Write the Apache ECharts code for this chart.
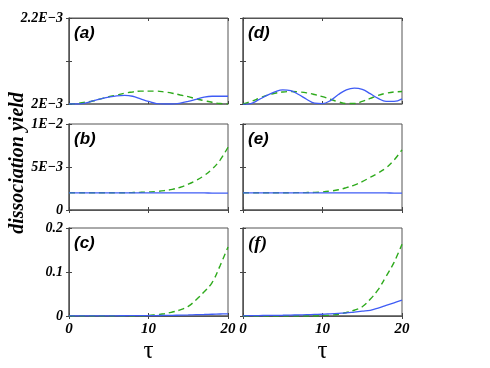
<!DOCTYPE html>
<html>
<head>
<meta charset="utf-8">
<script src="https://cdn.jsdelivr.net/npm/echarts@6/dist/echarts.min.js"></script>
<style>
  html, body { margin: 0; background: #fff; }
  #chart { width: 490px; height: 368px; }
</style>
</head>
<body>
<div id="chart"></div>
<script>
// time axis
const tau = [0, 1, 2, 3, 4, 5, 6, 7, 8, 9, 10, 11, 12, 13, 14, 15, 16, 17, 18, 19, 20]

// row 1 (a),(d): values in units of 1E-3
const aBlue  = [2.000, 2.000, 2.002, 2.007, 2.012, 2.016, 2.019, 2.020, 2.018, 2.012, 2.006, 2.001, 2.000, 2.000, 2.002, 2.006, 2.011, 2.016, 2.018, 2.018, 2.018]
const aGreen = [2.000, 2.001, 2.004, 2.007, 2.012, 2.017, 2.021, 2.025, 2.028, 2.030, 2.030, 2.030, 2.028, 2.025, 2.021, 2.017, 2.012, 2.008, 2.004, 2.001, 2.000]
const dBlue  = [1.999, 2.001, 2.010, 2.020, 2.028, 2.033, 2.031, 2.022, 2.011, 2.002, 2.001, 2.008, 2.022, 2.033, 2.037, 2.034, 2.024, 2.013, 2.006, 2.006, 2.012]
const dGreen = [2.000, 2.006, 2.013, 2.020, 2.025, 2.028, 2.029, 2.028, 2.026, 2.022, 2.017, 2.011, 2.005, 2.001, 2.001, 2.006, 2.013, 2.020, 2.025, 2.028, 2.029]

// row 2 (b),(e): values in units of 1E-3
const bBlue  = [2.0, 2.0, 2.0, 2.0, 2.0, 2.0, 2.0, 2.0, 2.0, 2.0, 2.0, 2.0, 2.0, 2.0, 2.0, 1.99, 1.98, 1.98, 1.97, 1.97, 1.96]
const bGreen = [2.0, 2.0, 2.0, 2.0, 2.0, 2.0, 2.0, 2.01, 2.03, 2.06, 2.1, 2.15, 2.25, 2.4, 2.65, 3.0, 3.45, 4.0, 4.75, 5.8, 7.3]
const eBlue  = [2.0, 2.0, 2.0, 2.0, 2.0, 2.0, 2.0, 2.0, 2.0, 2.0, 2.0, 2.0, 2.0, 2.0, 2.0, 1.99, 1.99, 1.98, 1.98, 1.97, 1.97]
const eGreen = [2.0, 2.0, 2.0, 2.0, 2.0, 2.0, 2.01, 2.02, 2.03, 2.05, 2.1, 2.2, 2.35, 2.6, 2.9, 3.3, 3.8, 4.3, 4.9, 5.8, 7.0]

// row 3 (c),(f)
const cBlue  = [0.0005, 0.0005, 0.0005, 0.0005, 0.0005, 0.0005, 0.0005, 0.0006, 0.0007, 0.0008, 0.0009, 0.001, 0.0012, 0.0015, 0.002, 0.0024, 0.0029, 0.0034, 0.004, 0.0045, 0.005]
const cGreen = [0, 0, 0, 0, 0, 0, 0, 0, 0, 0.0005, 0.001, 0.003, 0.005, 0.009, 0.014, 0.022, 0.037, 0.055, 0.076, 0.114, 0.157]
const fBlue  = [0.0005, 0.0007, 0.001, 0.0012, 0.0015, 0.0017, 0.002, 0.0025, 0.003, 0.0035, 0.004, 0.005, 0.006, 0.007, 0.009, 0.011, 0.013, 0.018, 0.024, 0.030, 0.036]
const fGreen = [0, 0, 0, 0, 0, 0, 0, 0, 0, 0, 0.001, 0.002, 0.004, 0.008, 0.013, 0.021, 0.038, 0.060, 0.090, 0.122, 0.163]

// y axis settings per row
const rowScales = [
  { min: 2, max: 2.2, interval: 0.1, labels: { '2': '2E\u22123', '2.1': '', '2.2': '2.2E\u22123' } },
  { min: 0, max: 10, interval: 5, labels: { '0': '0', '5': '5E\u22123', '10': '1E\u22122' } },
  { min: 0, max: 0.2, interval: 0.1, labels: { '0': '0', '0.1': '0.1', '0.2': '0.2' } }
]
const xTicks = ['0', '10', '20']

const panels = [
  { label: '(a)', col: 0, row: 0, blue: aBlue, green: aGreen },
  { label: '(b)', col: 0, row: 1, blue: bBlue, green: bGreen },
  { label: '(c)', col: 0, row: 2, blue: cBlue, green: cGreen },
  { label: '(d)', col: 1, row: 0, blue: dBlue, green: dGreen },
  { label: '(e)', col: 1, row: 1, blue: eBlue, green: eGreen },
  { label: '(f)', col: 1, row: 2, blue: fBlue, green: fGreen, serif: true }
]

const colLeft = [69, 243]
const colWidth = 159
const rowTop = [18, 124, 228]
const rowHeight = [86, 86, 88]

const tickFont = {
  color: '#000',
  fontFamily: 'Liberation Serif',
  fontWeight: 'bold',
  fontStyle: 'italic',
  fontSize: 14
}
const frameLine = { lineStyle: { color: '#6e6e6e', width: 1.5 } }

const grid = []
const xAxis = []
const yAxis = []
const series = []
const graphic = []

const round = (v) => String(Math.round(v * 1000) / 1000)

panels.forEach((p, i) => {
  const sc = rowScales[p.row]
  grid.push({
    left: colLeft[p.col],
    top: rowTop[p.row],
    width: colWidth,
    height: rowHeight[p.row],
    show: true,
    borderColor: '#555',
    borderWidth: 1,
    backgroundColor: '#fff'
  })
  const showX = p.row === 2
  xAxis.push({
    type: 'value', gridIndex: i, min: 0, max: 20, interval: 10,
    axisLine: frameLine,
    axisTick: { inside: true, length: 3, lineStyle: { color: '#444' } },
    splitLine: { show: false },
    axisLabel: { show: showX, margin: 6, ...tickFont, fontSize: 15, formatter: (v) => xTicks[v / 10] }
  })
  xAxis.push({
    type: 'value', gridIndex: i, position: 'top', min: 0, max: 20, interval: 10,
    axisLine: { lineStyle: { color: '#555', width: 1 } },
    axisTick: { inside: true, length: 3, lineStyle: { color: '#444' } },
    splitLine: { show: false },
    axisLabel: { show: false }
  })
  yAxis.push({
    type: 'value', gridIndex: i, min: sc.min, max: sc.max, interval: sc.interval,
    axisLine: frameLine,
    axisTick: { inside: true, length: 3, lineStyle: { color: '#444' } },
    splitLine: { show: false },
    axisLabel: { show: p.col === 0, margin: 6, ...tickFont, formatter: (v) => sc.labels[round(v)] ?? '' }
  })
  yAxis.push({
    type: 'value', gridIndex: i, position: 'right', min: sc.min, max: sc.max, interval: sc.interval,
    axisLine: { lineStyle: { color: '#555', width: 1 } },
    axisTick: { inside: true, length: 3, lineStyle: { color: '#444' } },
    splitLine: { show: false },
    axisLabel: { show: false }
  })
  series.push({
    type: 'line', xAxisIndex: 2 * i, yAxisIndex: 2 * i,
    data: tau.map((t, k) => [t, p.green[k]]),
    showSymbol: false, smooth: 0.4, z: 3,
    lineStyle: { color: '#2eaa1c', width: 1.4, type: [6, 4] }
  })
  series.push({
    type: 'line', xAxisIndex: 2 * i, yAxisIndex: 2 * i,
    data: tau.map((t, k) => [t, p.blue[k]]),
    showSymbol: false, smooth: 0.4, z: 4,
    lineStyle: { color: '#3f5cf5', width: 1.3 }
  })
  graphic.push({
    type: 'text',
    left: colLeft[p.col] + 5,
    top: rowTop[p.row] + 7,
    z: 10,
    style: {
      text: p.label,
      fill: '#000',
      fontFamily: p.serif ? 'Liberation Serif' : 'Liberation Sans',
      fontWeight: 'bold',
      fontStyle: 'italic',
      fontSize: p.serif ? 19 : 17
    }
  })
})

// axis titles
graphic.push({
  type: 'text',
  x: 18, y: 163,
  rotation: Math.PI / 2,
  style: {
    text: 'dissociation yield',
    fill: '#000',
    fontFamily: 'Liberation Serif',
    fontWeight: 'bold',
    fontStyle: 'italic',
    fontSize: 20,
    align: 'center',
    verticalAlign: 'middle'
  }
})
colLeft.forEach((l) => {
  graphic.push({
    type: 'text',
    x: l + colWidth / 2, y: 351,
    style: {
      text: '\u03c4',
      fill: '#000',
      fontFamily: 'Liberation Serif',
      fontSize: 25,
      align: 'center',
      verticalAlign: 'middle'
    }
  })
})

const chart = echarts.init(document.getElementById('chart'))
chart.setOption({
  animation: false,
  grid: grid,
  xAxis: xAxis,
  yAxis: yAxis,
  series: series,
  graphic: graphic
})
</script>
</body>
</html>
